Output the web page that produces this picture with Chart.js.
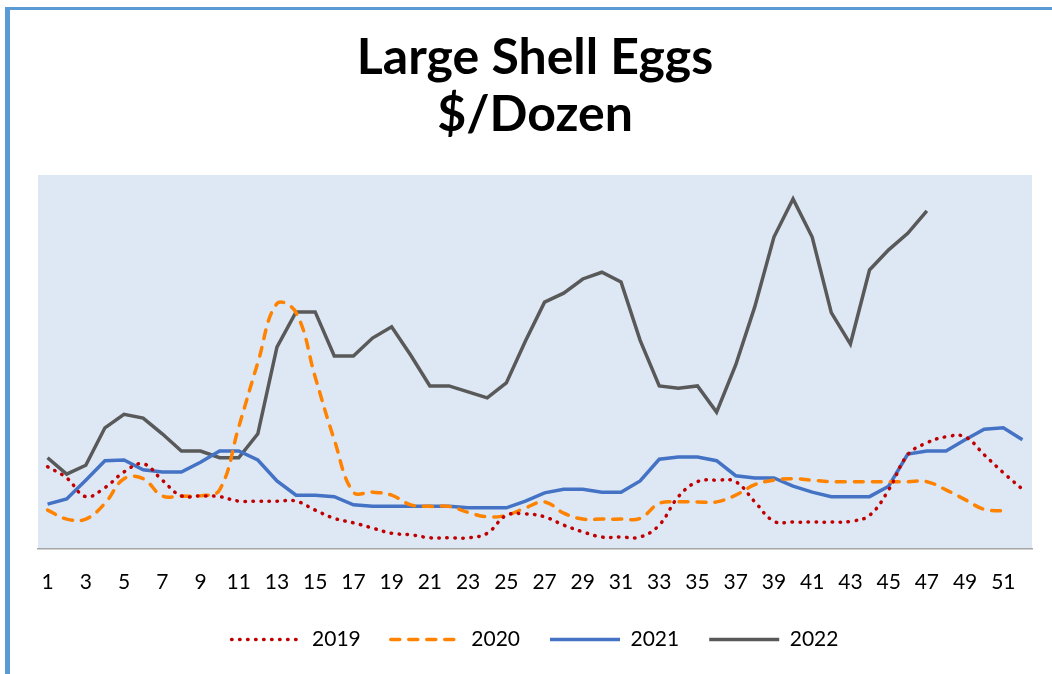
<!DOCTYPE html>
<html>
<head>
<meta charset="utf-8">
<script src="https://cdn.jsdelivr.net/npm/chart.js@4/dist/chart.umd.min.js"></script>
<style>
  body { margin: 0; background: #fff; }
  #wrap { position: relative; width: 1052px; height: 674px; }
  #frame { position: absolute; left: 5px; top: 7px; right: 0; bottom: 0;
           border-left: 5px solid #5b9bd5; border-top: 3px solid #5b9bd5; pointer-events: none; }
</style>
</head>
<body>
<div id="wrap">
  <canvas id="chart" width="1052" height="674"></canvas>
  <div id="frame"></div>
</div>
<script>
// semanas do ano
const semanas = [1, 2, 3, 4, 5, 6, 7, 8, 9, 10, 11, 12, 13, 14, 15, 16, 17, 18, 19, 20,
  21, 22, 23, 24, 25, 26, 27, 28, 29, 30, 31, 32, 33, 34, 35, 36, 37, 38, 39, 40,
  41, 42, 43, 44, 45, 46, 47, 48, 49, 50, 51, 52];

// $/dozen (estimados)
const ano2019 = [1.10, 0.95, 0.70, 0.82, 1.03, 1.14, 0.92, 0.71, 0.71, 0.70,
  0.64, 0.64, 0.64, 0.64, 0.52, 0.41, 0.35, 0.28, 0.21, 0.19,
  0.15, 0.15, 0.15, 0.21, 0.45, 0.47, 0.43, 0.32, 0.23, 0.16,
  0.16, 0.16, 0.32, 0.70, 0.90, 0.92, 0.90, 0.63, 0.37, 0.36,
  0.36, 0.36, 0.37, 0.45, 0.79, 1.26, 1.42, 1.50, 1.50, 1.26,
  1.02, 0.80];
const ano2020 = [0.52, 0.40, 0.40, 0.61, 0.94, 0.94, 0.71, 0.71, 0.71, 0.79,
  1.63, 2.49, 3.28, 3.16, 2.30, 1.46, 0.76, 0.76, 0.72, 0.59,
  0.57, 0.57, 0.49, 0.43, 0.45, 0.55, 0.63, 0.48, 0.40, 0.40,
  0.40, 0.41, 0.61, 0.63, 0.63, 0.63, 0.72, 0.86, 0.92, 0.94,
  0.92, 0.90, 0.90, 0.90, 0.90, 0.90, 0.90, 0.79, 0.66, 0.53,
  0.51, null];
const ano2021 = [0.60, 0.67, 0.92, 1.18, 1.19, 1.06, 1.03, 1.03, 1.16, 1.31,
  1.31, 1.19, 0.91, 0.72, 0.72, 0.70, 0.59, 0.57, 0.57, 0.57,
  0.57, 0.57, 0.55, 0.55, 0.55, 0.64, 0.75, 0.80, 0.80, 0.76,
  0.76, 0.91, 1.20, 1.23, 1.23, 1.18, 0.98, 0.95, 0.95, 0.84,
  0.76, 0.70, 0.70, 0.70, 0.84, 1.27, 1.31, 1.31, 1.46, 1.60,
  1.62, 1.46];
const ano2022 = [1.22, 1.00, 1.12, 1.62, 1.80, 1.75, 1.54, 1.31, 1.31, 1.22,
  1.22, 1.54, 2.70, 3.17, 3.17, 2.58, 2.58, 2.82, 2.97, 2.59,
  2.18, 2.18, 2.10, 2.02, 2.22, 2.78, 3.30, 3.42, 3.61, 3.70,
  3.57, 2.79, 2.18, 2.15, 2.18, 1.83, 2.46, 3.24, 4.17, 4.68,
  4.17, 3.16, 2.74, 3.73, 4.00, 4.22, 4.52, null, null, null,
  null, null];

// fundo azul claro da área do gráfico
const fundoArea = {
  id: 'fundoArea',
  beforeDraw(chart) {
    const { ctx, chartArea: a } = chart;
    ctx.save();
    ctx.fillStyle = '#dde8f4';
    ctx.fillRect(a.left, a.top, a.right - a.left, a.bottom - a.top);
    ctx.restore();
  }
};

const fonte = "Lato, 'Open Sans', sans-serif";

new Chart(document.getElementById('chart'), {
  type: 'line',
  data: {
    labels: semanas,
    datasets: [
      { label: '2019', data: ano2019, borderColor: '#c00000', borderWidth: 3.5,
        borderDash: [0.5, 7.5], borderCapStyle: 'round', tension: 0.4 },
      { label: '2020', data: ano2020, borderColor: '#ff8200', borderWidth: 3.5,
        borderDash: [9, 9], borderCapStyle: 'round', tension: 0.4 },
      { label: '2021', data: ano2021, borderColor: '#4472c4', borderWidth: 3.5, tension: 0 },
      { label: '2022', data: ano2022, borderColor: '#595959', borderWidth: 3.5, tension: 0 }
    ]
  },
  options: {
    responsive: false,
    animation: false,
    elements: { point: { radius: 0 } },
    layout: { padding: { left: 38, right: 20, top: 0, bottom: 14 } },
    plugins: {
      title: {
        display: true,
        text: ['Large Shell Eggs', '$/Dozen'],
        color: '#000',
        font: { family: fonte, size: 50, weight: 'bold', lineHeight: 1.14 },
        padding: { top: 29, bottom: 32 }
      },
      legend: {
        position: 'bottom',
        labels: {
          usePointStyle: true,
          pointStyle: 'line',
          pointStyleWidth: 70,
          color: '#000',
          font: { family: fonte, size: 21 },
          padding: 30,
          // traço da legenda igual ao da série
          generateLabels(chart) {
            const itens = Chart.defaults.plugins.legend.labels.generateLabels(chart);
            return itens.map(it => {
              const ds = chart.data.datasets[it.datasetIndex];
              it.lineDash = ds.borderDash || [];
              it.lineCap = ds.borderCapStyle || 'butt';
              it.lineWidth = ds.borderWidth;
              it.strokeStyle = ds.borderColor;
              it.pointStyle = 'line';
              return it;
            });
          }
        }
      },
      tooltip: { enabled: false }
    },
    scales: {
      x: {
        offset: true,
        grid: { display: false, drawTicks: false },
        border: { display: true, color: '#a6a6a6', width: 1.5 },
        ticks: {
          autoSkip: false,
          maxRotation: 0,
          padding: 21,
          color: '#000',
          font: { family: fonte, size: 21 },
          callback: (v, i) => (i % 2 === 0 ? semanas[i] : '')
        },
        afterFit: (s) => { s.height = 50; }
      },
      y: { display: false, min: 0, max: 5 }
    }
  },
  plugins: [fundoArea]
});
</script>
</body>
</html>
